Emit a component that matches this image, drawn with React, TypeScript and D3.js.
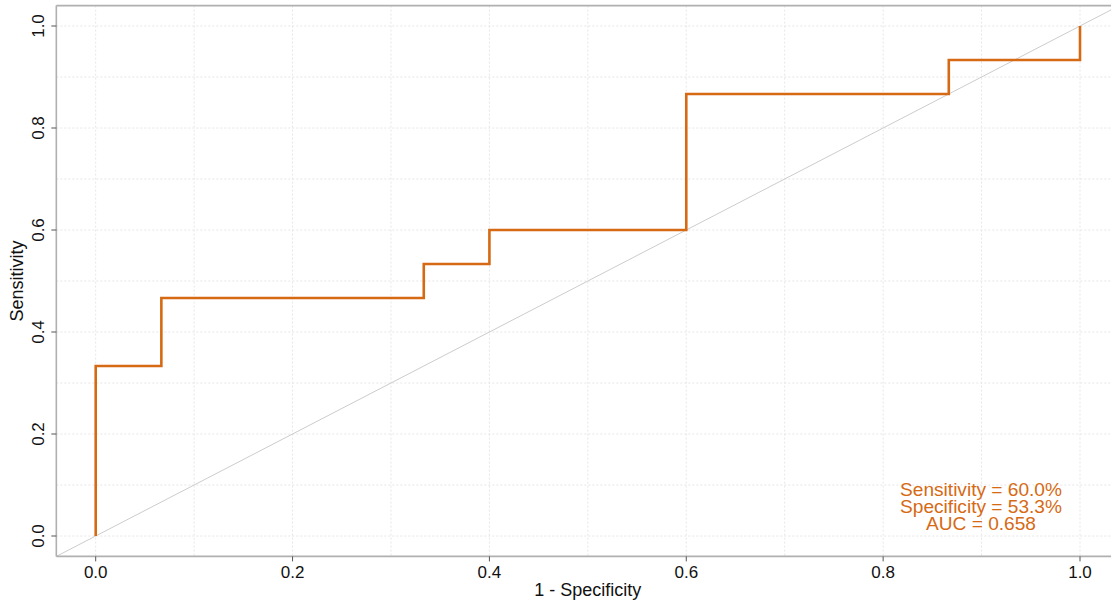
import React from "react";
import * as d3 from "d3";

const fpr = [0, 0, 0.0667, 0.0667, 0.3333, 0.3333, 0.4, 0.4, 0.6, 0.6, 0.8667, 0.8667, 1, 1];
const tpr = [0, 0.3333, 0.3333, 0.4667, 0.4667, 0.5333, 0.5333, 0.6, 0.6, 0.8667, 0.8667, 0.9333, 0.9333, 1];
const tickValues = [0, 0.2, 0.4, 0.6, 0.8, 1.0];
const gridValues = [0, 0.1, 0.2, 0.3, 0.4, 0.5, 0.6, 0.7, 0.8, 0.9, 1.0];
const annotation = ["Sensitivity = 60.0%", "Specificity = 53.3%", "AUC = 0.658"];

const W = 1111;
const H = 606;
const ORANGE = "#D66A14";

export default function App() {
  const x = d3.scaleLinear().domain([0, 1]).range([95.7, 1080]);
  const y = d3.scaleLinear().domain([0, 1]).range([536, 26]);
  const left = x(-0.04);
  const right = x(1.04);
  const top = y(1.04);
  const bottom = y(-0.04);
  const pts: [number, number][] = fpr.map((f, i) => [f, tpr[i]]);
  const line = d3.line<[number, number]>().x((d) => x(d[0])).y((d) => y(d[1]));
  const font = "Liberation Sans, Arial, sans-serif";
  return (
    <svg width={W} height={H} style={{ position: "absolute", left: 0, top: 0, background: "#fff" }}>
      <defs>
        <clipPath id="plot">
          <rect x={left} y={top} width={right - left} height={bottom - top} />
        </clipPath>
      </defs>
      {gridValues.map((v) => (
        <g key={"g" + v}>
          <line x1={x(v)} x2={x(v)} y1={top} y2={bottom} stroke="#e6e6e6" strokeWidth={1} strokeDasharray="2,2" />
          <line x1={left} x2={right} y1={y(v)} y2={y(v)} stroke="#e6e6e6" strokeWidth={1} strokeDasharray="2,2" />
        </g>
      ))}
      <g clipPath="url(#plot)">
        <line x1={x(-0.04)} y1={y(-0.04)} x2={x(1.04)} y2={y(1.04)} stroke="#cccccc" strokeWidth={1} />
      </g>
      <path d={line(pts) || ""} fill="none" stroke={ORANGE} strokeWidth={2.6} strokeLinejoin="miter" />
      <line x1={left} x2={left} y1={top} y2={bottom} stroke="#b0b0b0" strokeWidth={1.6} />
      <line x1={left} x2={right} y1={top} y2={top} stroke="#b0b0b0" strokeWidth={1.6} />
      <line x1={left} x2={right} y1={bottom} y2={bottom} stroke="#b0b0b0" strokeWidth={1.6} />
      {tickValues.map((v) => (
        <g key={"t" + v}>
          <line x1={x(v)} x2={x(v)} y1={bottom} y2={bottom + 5} stroke="#555" strokeWidth={1} />
          <text x={x(v)} y={bottom + 22} textAnchor="middle" fontFamily={font} fontSize={17} fill="#111">
            {v.toFixed(1)}
          </text>
          <line x1={left - 5} x2={left} y1={y(v)} y2={y(v)} stroke="#555" strokeWidth={1} />
          <text
            transform={`translate(${left - 12},${y(v)}) rotate(-90)`}
            textAnchor="middle"
            fontFamily={font}
            fontSize={17}
            fill="#111"
          >
            {v.toFixed(1)}
          </text>
        </g>
      ))}
      <text x={(x(0) + x(1)) / 2} y={596} textAnchor="middle" fontFamily={font} fontSize={18} fill="#111">
        1 - Specificity
      </text>
      <text
        transform={`translate(23,${(top + bottom) / 2}) rotate(-90)`}
        textAnchor="middle"
        fontFamily={font}
        fontSize={18}
        fill="#111"
      >
        Sensitivity
      </text>
      {annotation.map((t, i) => (
        <text
          key={t}
          transform={`translate(981,${496 + i * 17}) scale(1.08,1)`}
          textAnchor="middle"
          fontFamily={font}
          fontSize={17.7}
          fill={ORANGE}
        >
          {t}
        </text>
      ))}
    </svg>
  );
}
